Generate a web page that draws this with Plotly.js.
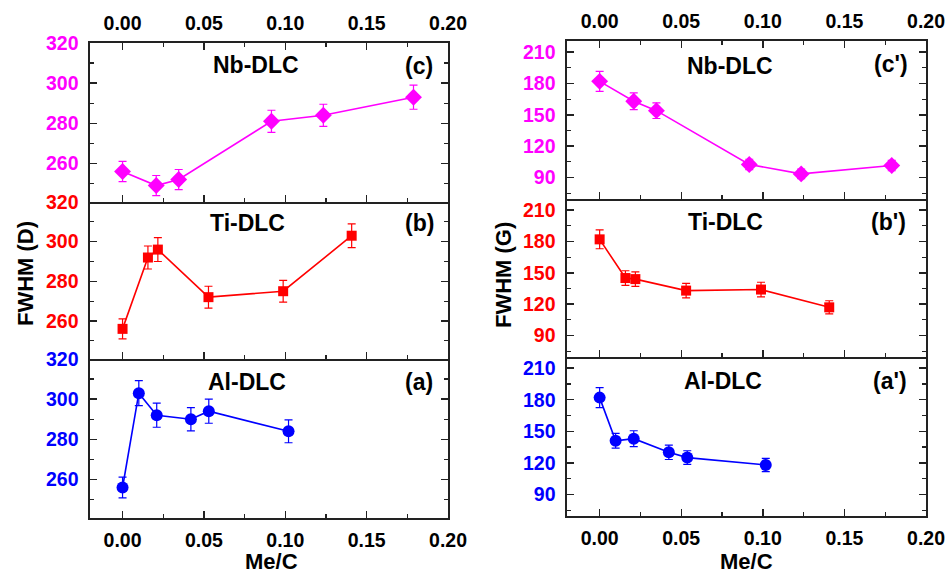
<!DOCTYPE html>
<html>
<head>
<meta charset="utf-8">
<script src="https://cdn.plot.ly/plotly-3.0.1.min.js"></script>
<style>html,body{margin:0;padding:0;background:#fff;}#chart{width:949px;height:573px;}</style>
</head>
<body>
<div id="chart"></div>
<script>
// ---- Data ----
// Left column: FWHM (D)
const xAlD = [0.000, 0.010, 0.021, 0.042, 0.053, 0.102];
const yAlD = [256, 303, 292, 290, 294, 284];
const eAlD = [5.2, 6.2, 6.0, 5.8, 6.0, 5.7];

const xTiD = [0.000, 0.0156, 0.0217, 0.0528, 0.0987, 0.1408];
const yTiD = [256, 292, 296, 272, 275, 303];
const eTiD = [5.0, 5.8, 6.0, 5.5, 5.5, 6.0];

const xNbD = [0.000, 0.0207, 0.0345, 0.0915, 0.1234, 0.1788];
const yNbD = [256, 249, 252, 281, 284, 293];
const eNbD = [5.0, 5.0, 5.0, 5.5, 5.5, 6.0];

// Right column: FWHM (G)
const xAlG = [0.000, 0.0098, 0.0209, 0.0424, 0.0537, 0.1018];
const yAlG = [182, 141, 143, 130, 125, 118];
const eAlG = [9.5, 7.0, 7.5, 6.8, 6.5, 6.3];

const xTiG = [0.000, 0.0158, 0.0219, 0.0530, 0.0989, 0.1407];
const yTiG = [182, 145, 144, 133, 134, 117];
const eTiG = [9.0, 7.0, 7.0, 7.0, 7.0, 6.3];

const xNbG = [0.000, 0.0209, 0.0348, 0.0917, 0.1235, 0.1790];
const yNbG = [182, 163, 154, 102.5, 93.5, 101.5];
const eNbG = [9.5, 8.0, 7.5, 5.0, 4.5, 5.0];

const panelNames = ['Al-DLC', 'Ti-DLC', 'Nb-DLC'];
const panelTagsD = ['(a)', '(b)', '(c)'];
const panelTagsG = ["(a')", "(b')", "(c')"];
const xTitle = 'Me/C';
const yTitleD = 'FWHM (D)';
const yTitleG = 'FWHM (G)';

// ---- Styling ----
const W = 949, H = 573;
const MAG = '#FF00FF', RED = '#FF0000', BLU = '#0000FF';
const FONT = 'Liberation Sans, Arial, Helvetica, sans-serif';
const tickFont = (c) => ({family: FONT, size: 19.5, color: c, weight: 'bold'});
const px = (a, b) => [a / W, b / W];
const py = (top, bot) => [1 - bot / H, 1 - top / H];

function trace(x, y, e, color, symbol, size, xa, ya) {
  return {
    x: x, y: y, xaxis: xa, yaxis: ya, type: 'scatter', mode: 'lines+markers',
    line: {color: color, width: 1.6},
    marker: {color: color, symbol: symbol, size: size},
    error_y: {type: 'data', array: e, visible: true, color: color, thickness: 1.2, width: 4},
    showlegend: false, cliponaxis: false
  };
}

const data = [
  trace(xAlD, yAlD, eAlD, BLU, 'circle', 12, 'x', 'y'),
  trace(xTiD, yTiD, eTiD, RED, 'square', 10, 'x2', 'y2'),
  trace(xNbD, yNbD, eNbD, MAG, 'diamond', 13, 'x3', 'y3'),
  trace(xAlG, yAlG, eAlG, BLU, 'circle', 12, 'x4', 'y4'),
  trace(xTiG, yTiG, eTiG, RED, 'square', 10, 'x5', 'y5'),
  trace(xNbG, yNbG, eNbG, MAG, 'diamond', 13, 'x6', 'y6')
];

const AXC = '#222';
function xAxis(dom, anchor, opts) {
  return Object.assign({
    domain: dom, anchor: anchor, range: [-0.02, 0.20], dtick: 0.05, tick0: 0,
    tickformat: '.2f', showgrid: false, zeroline: false,
    showline: true, linecolor: AXC, linewidth: 1.6, mirror: false,
    ticks: 'inside', ticklen: 7, tickwidth: 1.4, tickcolor: AXC,
    minor: {ticks: 'inside', ticklen: 4, tickwidth: 1.2, tickcolor: AXC, dtick: 0.025, tick0: 0},
    tickfont: tickFont('#000'), showticklabels: false, ticklabelstandoff: 4
  }, opts || {});
}
function yAxis(dom, anchor, range, dtick, color, opts) {
  return Object.assign({
    domain: dom, anchor: anchor, range: range, dtick: dtick, tick0: 0,
    showgrid: false, zeroline: false,
    showline: true, linecolor: AXC, linewidth: 1.6, mirror: 'ticks',
    ticks: 'inside', ticklen: 7, tickwidth: 1.4, tickcolor: AXC,
    minor: {ticks: 'inside', ticklen: 4, tickwidth: 1.2, tickcolor: AXC, dtick: dtick / 2, tick0: 0},
    tickfont: tickFont(color), ticklabelstandoff: 6
  }, opts || {});
}

const LX = px(90, 448), RX = px(567, 926);
const L = [py(359, 518), py(202, 359), py(43, 202)];
const R = [py(357, 516), py(199, 357), py(41, 199)];
const rD = [240.8, 320.01], rG = [69.5, 220.6];

const layout = {
  width: W, height: H, margin: {l: 0, r: 0, t: 0, b: 0},
  paper_bgcolor: '#fff', plot_bgcolor: '#fff', showlegend: false,
  xaxis: xAxis(LX, 'y', {showticklabels: true}),
  xaxis2: xAxis(LX, 'y2'),
  xaxis3: xAxis(LX, 'y3', {side: 'top', showticklabels: true, mirror: 'ticks'}),
  xaxis4: xAxis(RX, 'y4', {showticklabels: true}),
  xaxis5: xAxis(RX, 'y5'),
  xaxis6: xAxis(RX, 'y6', {side: 'top', showticklabels: true, mirror: 'ticks'}),
  yaxis: yAxis(L[0], 'x', rD, 20, BLU),
  yaxis2: yAxis(L[1], 'x2', rD, 20, RED),
  yaxis3: yAxis(L[2], 'x3', rD, 20, MAG),
  yaxis4: yAxis(R[0], 'x4', rG, 30, BLU),
  yaxis5: yAxis(R[1], 'x5', rG, 30, RED),
  yaxis6: yAxis(R[2], 'x6', rG, 30, MAG),
  annotations: []
};

// Text labels (positions in pixels -> paper)
const labFont = {family: FONT, size: 23, color: '#000', weight: 'bold'};
const titleFont = {family: FONT, size: 22, color: '#000', weight: 'bold'};
const namePosL = [[247, 382], [248, 223], [256, 65]];
const tagPosL = [[419, 382], [419, 223], [419, 66]];
const namePosR = [[723, 381], [725, 222], [730, 66]];
const tagPosR = [[890, 381], [888, 222], [891, 64]];
function ann(text, p, font, angle) {
  return {text: text, x: p[0] / W, y: 1 - p[1] / H, xref: 'paper', yref: 'paper',
    xanchor: 'center', yanchor: 'middle', showarrow: false, font: font, textangle: angle || 0};
}
for (let i = 0; i < 3; i++) {
  layout.annotations.push(ann(panelNames[i], namePosL[i], labFont));
  layout.annotations.push(ann(panelTagsD[i], tagPosL[i], labFont));
  layout.annotations.push(ann(panelNames[i], namePosR[i], labFont));
  layout.annotations.push(ann(panelTagsG[i], tagPosR[i], labFont));
}
// Axis titles
layout.annotations.push(ann(xTitle, [271, 561], titleFont));
layout.annotations.push(ann(xTitle, [746, 561], titleFont));
layout.annotations.push(ann(yTitleD, [25, 274], titleFont, -90));
layout.annotations.push(ann(yTitleG, [503, 275], titleFont, -90));

Plotly.newPlot('chart', data, layout, {displayModeBar: false, staticPlot: true});
</script>
</body>
</html>
